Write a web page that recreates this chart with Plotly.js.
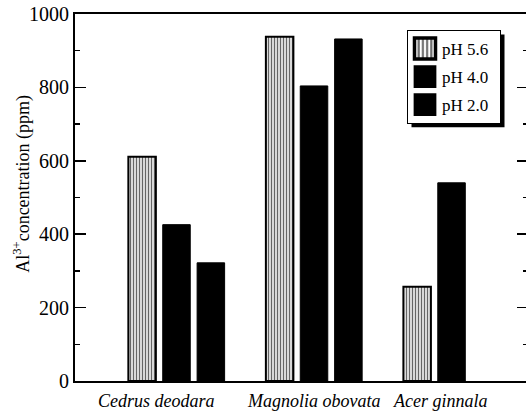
<!DOCTYPE html>
<html>
<head>
<meta charset="utf-8">
<script src="https://cdn.plot.ly/plotly-3.0.1.min.js"></script>
<style>
html,body{margin:0;padding:0;overflow:hidden;background:#fff;}
#chart{width:530px;height:414px;}
</style>
</head>
<body>
<div id="chart"></div>
<script>
const categories = ["Cedrus deodara", "Magnolia obovata", "Acer ginnala"];
const seriesNames = ["pH 5.6", "pH 4.0", "pH 2.0"];
const ph56 = [611, 938, 257];
const ph40 = [426, 804, 540];
const ph20 = [322, 932, null];
const yTickVals = [0, 200, 400, 600, 800, 1000];
const yTitle = "Al<sup>3+</sup>concentration (ppm)";
const labelOffsets = [-0.145, 0, -0.087];

const serif = "Liberation Serif, Times New Roman, serif";
const idx = categories.map((c, i) => i);

const traces = [
  {
    type: "bar", name: seriesNames[0], x: categories, y: ph56, legendgroup: "a",
    marker: {color: "white", line: {color: "black", width: 2},
             pattern: {shape: "|", fgcolor: "#666", bgcolor: "white", size: 3, solidity: 0.5}}
  },
  {
    type: "bar", name: seriesNames[1], x: categories, y: ph40, legendgroup: "b",
    marker: {color: "black", line: {color: "black", width: 1}}
  },
  {
    type: "bar", name: seriesNames[2], x: categories, y: ph20, legendgroup: "c",
    marker: {color: "black", line: {color: "black", width: 1}}
  }
];

const L = 75, T = 14, W = 530, H = 414, R = 2, B = 32.5;
const pw = W - L - R, ph = H - T - B;
function px2paperX(p){ return (p - L) / pw; }
function px2paperY(p){ return (H - B - p) / ph; }

const annotations = categories.map((c, i) => ({
  x: idx[i] + labelOffsets[i], y: 0, xref: "x", yref: "paper",
  yanchor: "top", yshift: -8, showarrow: false, text: c,
  font: {family: serif, size: 18, color: "black", style: "italic"}
}));
annotations.push({
  x: 0, xref: "paper", xanchor: "center", xshift: -53, y: px2paperY(184), yref: "paper",
  yanchor: "middle", textangle: -90, showarrow: false, text: yTitle,
  font: {family: serif, size: 18, color: "black"}
});

const layout = {
  width: W, height: H,
  margin: {l: L, r: R, t: T, b: B},
  paper_bgcolor: "white", plot_bgcolor: "white",
  barmode: "group", bargap: 0.25, bargroupgap: 0.2,
  showlegend: true,
  legend: {
    x: px2paperX(407), y: px2paperY(30), xanchor: "left", yanchor: "top",
    bgcolor: "white", bordercolor: "black", borderwidth: 1,
    font: {family: serif, size: 17, color: "black"},
    tracegroupgap: 3
  },
  xaxis: {
    type: "category", range: [-0.738, 2.556],
    showticklabels: false, ticks: "", showline: true, linecolor: "black", linewidth: 2,
    mirror: true, showgrid: false, zeroline: false, fixedrange: true
  },
  yaxis: {
    range: [0, 1000], tickvals: yTickVals, ticks: "inside", ticklen: 11, tickwidth: 1.5,
    tickcolor: "black", showline: true, linecolor: "black", linewidth: 2, mirror: "ticks",
    showgrid: false, zeroline: false,
    tickfont: {family: serif, size: 20, color: "black"},
    minor: {dtick: 100, ticks: "inside", ticklen: 5, tickwidth: 1.5, tickcolor: "black", showgrid: false}
  },
  annotations: annotations
};

function tweakLegend(gd){
  gd.querySelectorAll(".legendpoints path").forEach(function(p){
    const t = p.getAttribute("transform") || "";
    if (t.indexOf("scale") < 0) p.setAttribute("transform", t + " translate(-3,0) scale(1.75)");
  });
  gd.querySelectorAll(".legend .legendtext").forEach(function(tx){
    if (!tx.dataset.shifted) {
      const x = parseFloat(tx.getAttribute("x") || "0");
      tx.setAttribute("x", x - 6);
      tx.querySelectorAll("tspan[x]").forEach(function(s){
        s.setAttribute("x", parseFloat(s.getAttribute("x")) - 6);
      });
      tx.dataset.shifted = "1";
    }
  });
}

Plotly.newPlot("chart", traces, layout, {staticPlot: true}).then(function(gd){
  const bg = gd.querySelector(".legend .bg");
  if (bg) {
    const r = bg.getBoundingClientRect();
    const g = gd.getBoundingClientRect();
    const x0 = r.left - g.left + 4, x1 = r.right - g.left + 4;
    const y0 = r.top - g.top + 4, y1 = r.bottom - g.top + 4;
    Plotly.relayout(gd, {shapes: [{
      type: "rect", xref: "paper", yref: "paper", layer: "above",
      x0: px2paperX(x0), x1: px2paperX(x1), y0: px2paperY(y1), y1: px2paperY(y0),
      fillcolor: "black", line: {width: 0}
    }]}).then(function(){ tweakLegend(gd); });
  } else {
    tweakLegend(gd);
  }
});
</script>
</body>
</html>
